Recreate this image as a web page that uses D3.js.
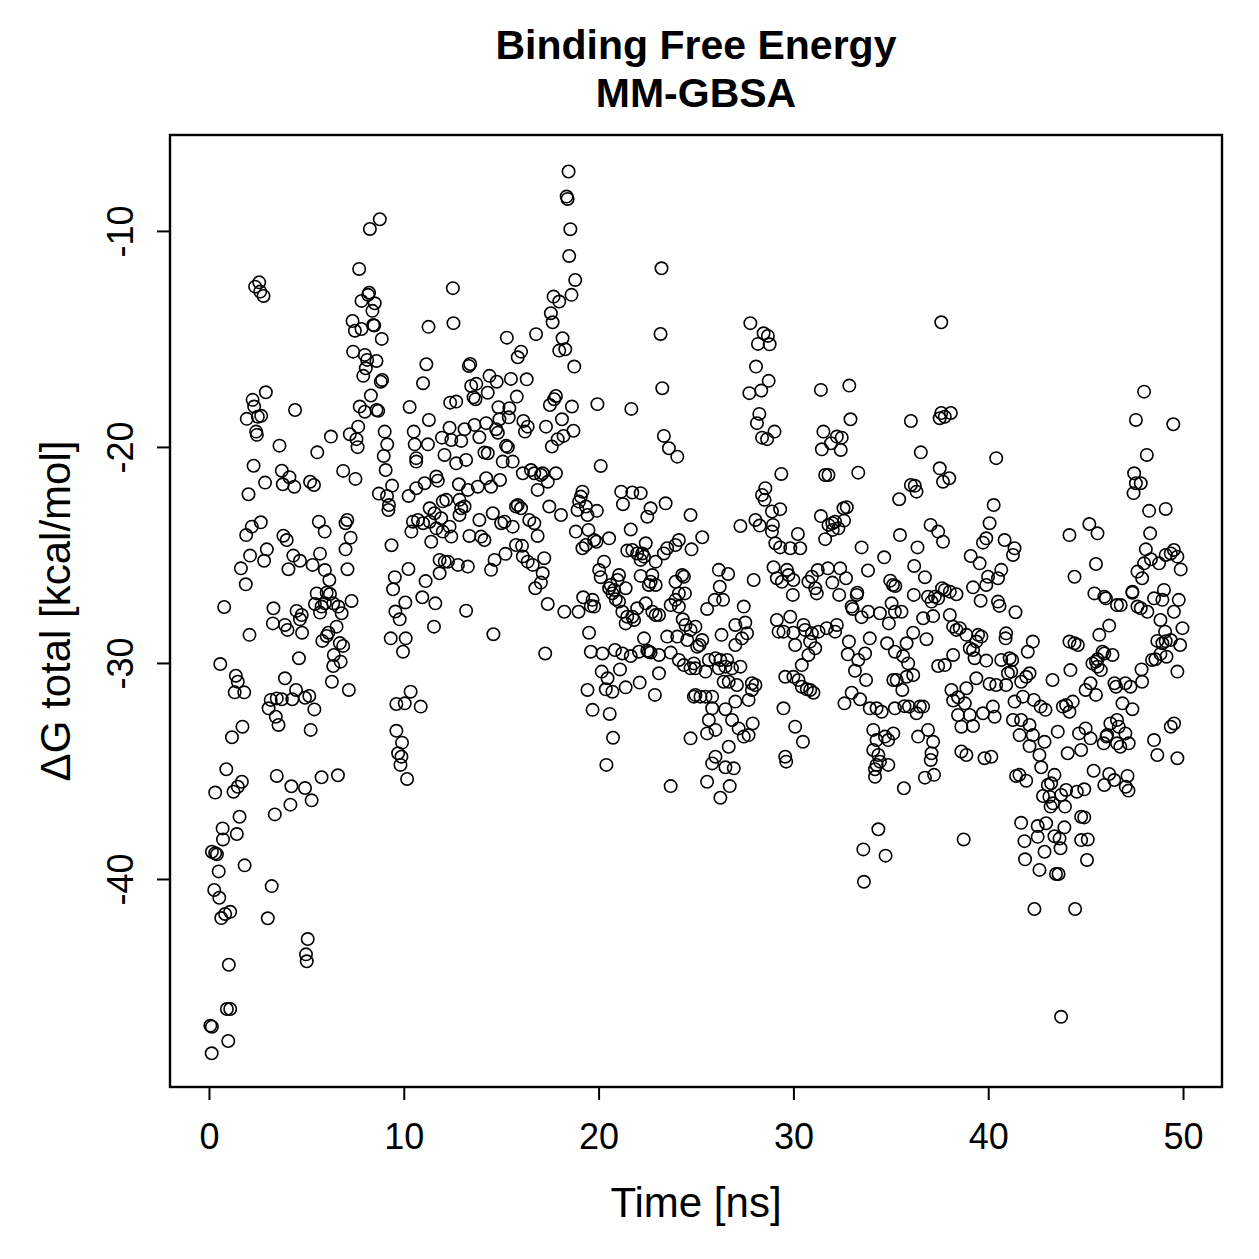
<!DOCTYPE html>
<html>
<head>
<meta charset="utf-8">
<script src="https://cdn.jsdelivr.net/npm/d3@7"></script>
<style>
  body { margin: 0; background: #fff; }
  text { font-family: "Liberation Sans", Arial, Helvetica, sans-serif; }
</style>
</head>
<body>
<div id="chart"></div>
<script>
// MM-GBSA binding free energy per frame, [time (ns), dG total (kcal/mol)]
const frames0to12 = [
  [0.89,-34.92],[0.32,-36.0],[1.26,-35.96],[1.48,-35.73],[1.69,-35.5],[3.48,-35.23],[4.23,-35.71],[4.93,-35.79],[5.78,-35.29],[6.62,-35.2],
  [5.27,-36.36],[4.18,-36.56],[3.38,-37.01],[1.57,-37.12],[0.70,-37.66],[0.72,-38.17],[1.43,-37.92],[0.15,-38.74],[0.32,-38.81],[0.41,-38.86],
  [1.83,-39.37],[0.5,-39.65],[3.22,-40.33],[0.27,-40.51],[0.53,-40.87],[1.09,-41.52],[0.83,-41.62],[0.63,-41.81],[3.02,-41.82],[5.07,-42.78],
  [4.98,-43.49],[5.02,-43.81],[1.02,-43.97],[0.92,-46.02],[1.09,-46.02],[0.07,-46.79],[0.15,-46.84],[0.99,-47.5],[0.14,-48.07],[9.83,-34.72],[10.17,-35.37],
  [2.29,-20.87],[3.74,-21.1],[4.13,-21.4],[2.88,-21.65],[3.79,-21.73],[4.38,-21.84],[5.19,-21.61],[5.39,-21.76],[2.03,-22.19],[6.89,-21.11],
  [7.52,-21.48],[9.07,-21.07],[9.4,-21.79],[8.72,-22.16],[9.14,-22.27],[9.24,-22.69],[9.21,-22.92],[10.25,-22.27],[10.64,-21.91],[11.07,-21.68],
  [11.67,-21.37],[11.75,-21.56],[10.64,-20.68],[12.0,-22.52],[11.33,-22.84],[11.58,-23.07],[11.92,-23.3],[10.47,-23.46],[10.73,-23.38],[10.99,-23.53],
  [11.33,-23.46],[11.67,-23.77],[12.0,-23.92],[10.39,-23.92],[11.41,-24.39],[2.66,-23.49],[2.2,-23.69],[1.91,-24.08],[3.82,-24.11],[3.99,-24.31],
  [5.64,-23.46],[5.94,-23.92],[7.01,-23.53],[7.1,-23.38],[7.27,-24.2],[7.01,-24.74],[9.37,-24.55],[2.97,-24.74],[2.11,-25.03],[2.83,-25.27],
  [4.33,-25.03],[4.67,-25.27],[5.7,-24.94],[5.32,-25.46],[5.95,-25.7],[4.08,-25.66],[1.64,-25.62],[1.89,-26.36],[7.11,-25.66],[6.18,-26.16],
  [5.53,-26.78],[6.04,-26.75],[6.21,-26.81],[5.44,-27.27],[5.78,-27.39],[5.95,-27.24],[6.38,-27.24],[6.64,-27.39],[6.81,-27.7],[7.32,-27.13],
  [5.7,-27.67],[3.31,-27.47],[4.5,-27.59],[4.76,-27.78],[4.67,-27.98],[3.28,-28.17],[3.9,-28.24],[4.03,-28.47],[4.78,-28.6],[0.78,-27.41],
  [2.08,-28.7],[6.55,-28.32],[6.13,-28.6],[6.04,-28.75],[5.82,-28.98],[6.72,-29.08],[6.89,-29.21],[6.41,-29.63],[6.76,-29.94],[6.38,-30.14],
  [4.62,-29.78],[0.58,-30.05],[1.38,-30.59],[1.48,-30.87],[1.32,-31.36],[1.81,-31.36],[3.9,-30.71],[6.31,-30.87],[7.18,-31.25],[4.47,-31.25],
  [4.28,-31.68],[4.93,-31.61],[5.15,-31.53],[5.41,-32.15],[3.17,-31.71],[3.06,-32.1],[3.48,-31.64],[3.74,-31.68],[3.43,-32.49],[3.57,-32.87],
  [5.22,-33.1],[1.72,-32.95],[1.18,-33.44],[10.35,-31.33],[9.62,-31.9],[10.05,-31.87],[10.87,-32.02],[9.62,-33.14],[9.91,-33.69],[9.71,-34.18],
  [9.88,-34.34],[9.54,-26.03],[9.45,-26.59],[10.24,-25.65],[11.12,-26.21],[10.95,-26.96],[11.62,-27.24],[10.08,-27.2],[9.57,-27.62],[9.79,-27.98],
  [11.55,-28.32],[9.33,-28.86],[10.1,-28.86],[9.96,-29.48],[11.84,-25.23],[11.84,-25.85],[12.1,-25.31],
  [8.77,-9.46],[8.26,-9.91],[7.71,-11.76],[2.58,-12.38],[2.37,-12.58],[2.63,-12.81],[2.8,-13.01],[8.22,-12.86],[8.17,-12.96],[7.83,-13.24],
  [8.51,-13.35],[8.39,-13.7],[7.37,-14.17],[7.49,-14.62],[7.83,-14.54],[8.43,-14.35],[8.48,-14.38],[8.87,-15.0],[11.27,-14.44],[7.4,-15.59],
  [8.0,-15.74],[8.12,-15.97],[8.6,-16.02],[8.05,-16.36],[7.92,-16.71],[8.89,-16.9],[8.82,-16.98],[11.16,-16.17],[10.99,-17.05],[2.92,-17.47],
  [2.24,-17.82],[2.32,-18.13],[2.68,-18.56],[2.51,-18.6],[1.94,-18.7],[2.42,-19.29],[2.46,-19.44],[4.42,-18.29],[8.31,-17.62],[7.74,-18.13],
  [8.0,-18.37],[8.6,-18.29],[8.69,-18.33],[10.3,-18.15],[11.29,-18.75],[7.23,-19.41],[7.66,-19.06],[7.57,-19.64],[7.63,-20.01],[9.02,-19.29],
  [9.15,-19.88],[8.97,-20.42],[10.51,-19.29],[10.56,-19.88],[11.24,-19.88],[10.64,-20.52],[6.26,-19.52],[5.56,-20.25],[3.62,-19.94],[11.96,-19.57],[12.09,-20.37]
];

const frames12to25 = [
  [18.46,-7.25],[18.36,-8.41],[18.41,-8.52],[18.55,-9.92],[18.49,-11.16],[18.8,-12.27],[18.61,-12.96],[23.23,-11.73],[12.52,-12.65],[17.69,-13.04],
  [17.98,-13.27],[17.55,-13.81],[17.64,-14.23],[12.55,-14.27],[23.18,-14.77],[15.29,-14.94],[16.79,-14.78],[18.15,-14.97],[17.98,-15.54],[18.29,-15.48],
  [18.75,-16.28],[16.02,-15.59],[15.85,-15.85],[13.41,-16.16],[13.34,-16.25],[23.27,-17.28],[14.4,-16.71],[14.77,-16.98],[15.5,-16.85],[16.31,-16.87],
  [13.46,-17.18],[13.72,-17.08],[13.58,-17.7],[13.68,-17.79],[14.31,-17.49],[15.8,-17.67],[12.38,-17.95],[12.69,-17.9],[17.81,-17.64],[17.72,-17.79],
  [17.5,-18.06],[18.63,-18.13],[19.94,-18.02],[21.68,-18.24],[14.86,-18.16],[15.42,-18.21],[14.91,-18.72],[15.39,-18.63],[16.14,-18.8],[16.36,-19.06],
  [16.22,-19.29],[14.74,-19.18],[14.83,-19.34],[13.63,-18.98],[14.23,-18.9],[13.12,-19.18],[12.35,-19.11],[17.3,-19.06],[18.12,-18.72],[18.71,-19.25],
  [18.2,-19.49],[17.9,-19.64],[17.6,-19.98],[13.88,-19.55],[12.44,-19.68],[12.95,-19.72],[14.14,-20.26],[14.31,-20.29],[15.25,-19.95],[15.34,-20.01],
  [23.35,-19.49],[23.61,-20.06],[24.04,-20.45],
  [20.11,-20.88],[16.11,-21.22],[16.53,-21.07],[16.7,-21.22],[17.04,-21.3],[17.13,-21.22],[17.39,-21.61],[17.81,-21.22],[16.87,-21.99],[15.08,-20.68],
  [15.59,-20.68],[12.69,-20.76],[13.2,-20.6],[12.83,-21.73],[13.29,-21.99],[13.8,-21.84],[14.23,-21.45],[14.48,-21.84],[14.94,-21.53],[12.18,-22.45],
  [12.86,-22.45],[12.95,-22.84],[12.86,-23.15],[13.12,-22.76],[13.88,-23.38],[14.57,-23.07],[15.0,-23.53],[15.17,-23.46],[15.59,-23.69],[15.76,-22.76],
  [15.85,-22.69],[16.02,-22.84],[16.44,-23.38],[16.7,-23.53],[17.47,-22.76],[18.07,-23.15],[16.87,-24.12],[12.35,-23.69],[12.44,-24.15],[13.37,-24.12],
  [13.97,-24.15],[14.14,-24.31],[15.76,-24.54],[16.07,-24.58],[15.22,-24.95],[14.66,-25.23],[14.48,-25.69],[16.11,-25.07],[16.36,-25.31],[16.62,-25.46],
  [17.21,-25.15],[12.27,-25.31],[12.78,-25.46],[13.29,-25.54],[17.13,-25.85],[17.04,-26.28],[16.75,-26.54],[17.39,-27.27],[13.2,-27.58],[14.6,-28.67],
  [17.26,-29.56],[18.24,-27.63],[18.97,-27.63],[19.21,-26.96],[19.69,-27.08],[19.6,-27.36],[19.77,-27.39],[18.83,-23.92],[19.17,-24.69],[19.35,-24.54],
  [19.77,-24.31],[19.89,-24.39],[19.48,-23.84],[20.54,-24.23],[18.92,-22.92],[19.0,-22.53],[19.17,-22.07],[19.09,-22.3],[19.35,-22.76],[19.43,-23.15],
  [19.91,-22.96],[21.16,-22.07],[21.73,-22.11],[22.16,-22.14],[21.25,-22.65],[22.67,-22.84],[22.5,-23.23],[23.44,-22.61],[21.65,-23.82],[24.72,-23.15],
  [22.42,-24.46],[21.73,-24.77],[21.47,-24.8],[21.98,-24.93],[22.33,-25.08],[22.24,-24.93],[22.16,-25.23],[22.93,-25.31],[23.35,-24.93],[23.52,-24.69],
  [23.95,-24.54],[24.12,-24.31],[24.77,-24.74],
  [20.28,-25.31],[20.03,-25.7],[20.11,-26.03],[21.05,-25.93],[20.97,-26.16],[20.62,-26.39],[20.54,-26.54],[20.8,-26.62],[21.39,-26.54],[20.71,-26.78],
  [20.88,-27.05],[21.05,-27.16],[22.16,-25.97],[22.76,-25.93],[22.67,-26.24],[22.93,-26.39],[22.58,-26.39],[23.95,-26.24],[24.29,-25.93],[24.38,-26.01],
  [24.12,-26.78],[24.43,-26.78],[23.95,-27.08],[23.7,-27.32],[24.12,-27.39],
  [21.22,-27.63],[21.47,-27.86],[21.39,-28.17],[21.82,-28.01],[21.73,-27.86],[21.98,-27.47],[22.42,-27.24],[22.76,-27.63],[23.1,-27.78],[22.93,-27.78],
  [23.52,-28.78],[22.33,-28.86],[22.58,-29.48],[23.1,-29.63],[23.7,-29.52],[24.04,-28.78],[24.55,-28.94],[24.32,-27.98],[24.46,-28.24],[24.72,-28.47],
  [19.51,-28.6],[19.6,-29.48],[20.2,-29.56],[20.84,-29.4],[21.22,-29.56],[21.65,-29.68],[22.07,-29.48],[22.5,-29.43],[22.67,-29.52],
  [20.16,-30.4],[20.46,-30.71],[20.37,-31.22],[20.71,-31.33],[21.1,-30.3],[21.39,-31.13],[22.11,-30.91],[23.1,-30.48],[22.89,-31.48],[19.43,-31.25],
  [24.12,-29.86],[24.38,-30.1],[24.72,-30.25],[24.89,-30.02],[24.89,-31.56],[19.69,-32.17],[20.57,-32.36],[20.74,-33.46],[24.72,-33.49],[20.4,-34.72],[23.7,-35.7]
];

const frames25to38 = [
  [29.38,-21.25],[31.63,-21.3],[31.8,-21.3],[33.33,-21.19],[37.51,-20.99],[37.68,-21.61],[36.03,-21.76],[36.23,-21.8],[36.32,-22.07],[35.43,-22.42],
  [28.56,-21.91],[28.39,-22.22],[28.52,-22.45],[28.9,-22.99],[29.32,-22.88],[27.28,-23.66],[28.05,-23.38],[28.27,-23.64],[28.95,-23.61],[28.9,-23.92],
  [29.07,-24.46],[29.32,-24.65],[29.84,-24.69],[30.35,-24.69],[30.23,-24.03],[31.41,-23.2],[31.8,-23.61],[32.0,-23.53],[32.14,-23.46],[32.31,-23.77],
  [32.6,-23.41],[32.57,-22.84],[32.74,-22.79],[31.63,-24.27],[32.02,-23.84],[25.32,-24.18],[33.5,-24.65],[34.66,-25.11],[35.47,-24.08],[36.37,-24.65],
  [37.04,-23.61],[37.43,-23.92],[37.68,-24.39],
  [26.17,-25.69],[26.65,-25.88],[26.22,-26.47],[25.96,-27.08],[26.39,-27.08],[25.57,-27.5],[27.96,-26.16],[28.98,-25.57],[29.67,-25.69],[29.75,-25.93],
  [29.15,-26.08],[29.41,-26.24],[30.0,-26.16],[29.97,-26.85],[30.77,-26.24],[30.95,-26.01],[31.25,-25.7],[31.12,-26.54],[31.2,-26.78],[31.77,-25.62],
  [32.4,-25.62],[32.0,-26.28],[32.7,-26.08],[32.35,-26.85],
  [33.28,-26.75],[33.25,-26.85],[32.99,-27.39],[33.04,-27.5],[33.84,-27.63],[33.5,-27.88],[34.44,-27.7],[35.04,-27.24],[35.55,-27.63],[34.9,-28.17],
  [35.21,-27.63],[36.18,-26.85],[36.75,-26.03],[36.2,-25.51],[36.91,-26.93],[37.09,-27.16],[37.26,-26.93],[37.43,-27.01],[37.63,-26.54],[37.17,-27.83],
  [36.66,-27.93],[36.15,-28.6],[36.83,-28.9],[35.11,-26.39],[34.97,-26.19],[35.23,-26.44],[33.83,-25.72],
  [24.97,-28.32],[25.32,-28.94],[25.06,-29.25],[25.18,-29.17],[25.66,-29.86],[26.0,-29.78],[26.25,-29.86],[26.6,-29.86],[24.97,-30.25],
  [25.49,-30.4],[26.17,-30.25],[26.51,-30.17],[26.85,-30.25],[27.28,-30.17],[26.42,-30.87],[26.68,-30.87],[27.1,-31.02],[27.87,-30.94],[28.05,-31.02],[27.87,-31.25],
  [24.97,-31.48],[25.23,-31.56],[25.49,-31.56],[25.83,-31.56],[25.83,-32.1],[26.51,-32.14],[27.02,-31.79],[27.7,-31.71],[26.85,-32.64],[25.66,-32.64],
  [26.0,-33.1],[25.57,-33.26],[27.19,-33.03],[27.45,-33.41],[27.7,-33.34],[27.91,-32.8],[26.68,-33.88],
  [26.31,-28.7],[27.02,-28.24],[27.45,-27.39],[27.53,-28.13],[27.62,-28.63],[27.36,-28.86],[27.02,-29.17],
  [29.15,-28.01],[29.84,-27.86],[29.24,-28.55],[29.49,-28.55],[30.0,-28.6],[30.6,-28.47],[30.52,-28.24],[30.95,-28.63],[31.29,-28.55],[31.71,-28.39],
  [32.23,-28.24],[32.14,-28.55],[30.86,-29.01],[31.12,-29.32],[30.77,-29.63],[30.09,-29.17],[30.43,-30.1],
  [29.58,-30.64],[30.0,-30.64],[30.26,-30.79],[30.43,-31.1],[30.69,-31.22],[30.86,-31.25],[31.03,-31.38],[29.49,-32.1],[30.09,-32.95],[30.49,-33.65],
  [32.85,-29.01],[32.79,-29.6],[33.33,-29.86],[33.68,-29.56],[33.16,-30.36],[33.73,-30.79],[32.99,-31.38],[33.42,-31.68],[32.62,-31.87],
  [33.92,-28.86],[34.81,-29.09],[35.21,-29.48],[35.81,-29.09],[35.89,-30.02],[35.63,-29.68],[36.15,-30.56],[35.81,-30.64],[35.3,-30.79],[35.59,-31.25],
  [35.13,-30.79],[35.93,-32.02],[36.49,-32.02],[37.43,-30.14],
  [33.92,-32.1],[34.27,-32.1],[34.53,-32.26],[35.21,-32.1],[35.7,-32.0],[36.32,-32.33],[36.66,-32.02],
  [34.1,-33.1],[34.27,-33.57],[34.7,-33.41],[35.13,-33.26],[34.87,-33.57],[34.1,-34.03],[34.36,-34.26],[36.4,-33.41],[36.91,-33.1],[37.17,-33.65],[37.09,-34.18],
  [26.0,-34.34],[29.58,-34.34],[25.83,-34.65],[26.51,-34.83],[26.94,-34.88],[25.57,-35.5],[26.73,-35.7],[26.25,-36.24],[29.63,-34.57],
  [34.27,-34.72],[34.19,-34.92],[34.19,-35.27],[34.87,-34.72],[34.44,-34.57],[35.67,-35.8],[36.75,-35.31],[37.22,-35.18],[37.05,-34.49],
  [34.36,-37.7],[33.59,-38.63],[34.73,-38.92],[33.62,-40.13],
  [27.79,-14.27],[28.47,-14.74],[28.69,-14.86],[28.18,-15.23],[28.78,-15.25],[28.08,-16.28],[28.73,-16.94],[28.35,-17.39],[27.74,-17.51],[31.41,-17.36],
  [32.87,-17.16],[28.25,-18.47],[28.13,-18.9],[29.03,-19.29],[28.39,-19.57],[28.65,-19.64],[32.93,-18.72],[31.54,-19.29],[32.23,-19.52],[32.48,-19.57],
  [31.93,-19.83],[31.46,-20.11],[32.43,-20.14],[36.03,-18.8],[36.54,-20.25],[37.59,-14.23],[37.59,-18.43],[37.51,-18.67]
];

const frames38to50 = [
  [38.08,-18.43],[37.77,-18.6],[40.41,-20.52],[48.0,-17.44],[47.58,-18.75],[49.5,-18.95],[48.14,-20.37],
  [38.0,-21.45],[47.49,-21.22],[47.58,-21.68],[47.83,-21.68],[47.46,-22.14],[40.28,-22.69],[48.26,-22.96],[49.11,-22.87],[48.31,-24.0],
  [40.07,-23.53],[39.9,-24.23],[39.73,-24.43],[40.84,-24.31],[41.35,-24.69],[41.27,-25.0],[39.1,-25.05],[39.56,-25.39],[40.67,-25.69],[40.5,-26.08],
  [39.99,-26.01],[39.9,-26.39],[39.22,-26.5],[37.77,-26.62],[38.03,-26.7],[38.37,-26.82],[39.61,-27.12],[40.5,-27.16],[40.58,-27.36],[41.4,-27.65],
  [38.03,-27.78],[38.2,-28.32],[38.37,-28.47],[38.54,-28.39],[38.88,-28.7],[39.48,-28.7],[39.65,-28.78],[39.39,-29.01],[40.92,-28.63],[40.89,-28.86],
  [42.29,-29.01],[42.03,-29.48],[40.67,-29.86],[41.1,-29.78],[41.23,-29.86],[41.18,-30.4],[41.01,-30.48],[42.12,-30.48],[41.95,-30.64],
  [39.22,-29.4],[39.05,-29.32],[39.3,-29.78],[39.9,-29.89],[38.2,-29.63],[37.77,-30.1],
  [39.39,-30.71],[40.07,-30.97],[40.41,-31.02],[40.92,-31.02],[41.69,-30.87],[38.88,-31.17],[38.11,-31.25],[38.45,-31.59],[38.2,-31.74],[38.8,-31.87],
  [39.73,-32.33],[40.24,-32.02],[40.33,-32.49],[39.05,-32.41],[38.45,-32.41],[38.62,-32.95],[39.22,-32.92],[41.35,-31.79],[41.78,-31.56],[41.69,-32.64],[41.27,-32.64],
  [42.34,-31.71],[42.69,-32.02],[42.94,-32.17],[42.12,-32.87],[41.61,-33.34],[42.29,-33.34],[42.89,-33.65],[42.12,-33.85],[43.57,-33.18],[43.83,-32.02],
  [44.34,-31.79],[44.17,-32.26],[44.0,-31.95],[43.3,-30.79],
  [44.66,-33.26],[45.0,-33.03],[45.25,-33.49],[46.1,-33.34],[46.27,-32.8],[46.61,-32.64],[46.7,-32.95],[47.04,-33.26],[47.21,-33.72],[46.61,-33.72],
  [46.78,-33.88],[45.93,-33.72],[46.07,-33.41],[48.51,-33.57],[49.37,-32.95],[49.54,-32.8],[48.68,-34.26],[49.71,-34.41],
  [38.62,-34.1],[38.88,-34.26],[39.81,-34.41],[40.16,-34.34],[42.63,-34.26],[44.08,-34.18],[44.77,-34.03],
  [44.17,-29.01],[44.43,-29.09],[44.6,-29.17],[45.7,-28.7],[46.21,-28.27],
  [45.35,-30.02],[45.53,-29.94],[45.61,-30.17],[45.78,-30.33],[45.87,-29.48],[45.96,-29.56],[46.38,-29.63],[45.61,-29.83],[44.22,-30.33],
  [45.0,-31.25],[45.25,-30.94],[45.53,-31.48],[46.48,-30.94],[46.56,-31.1],[47.04,-30.94],[47.3,-31.1],[47.9,-30.87],[46.89,-31.87],[47.4,-32.14],
  [47.87,-30.3],[48.41,-29.86],[48.58,-29.83],[48.84,-29.58],[49.15,-29.71],[49.71,-30.4],[48.68,-28.98],[48.94,-29.09],[49.11,-28.99],[49.37,-28.94],
  [49.85,-29.17],[49.97,-28.39],[49.08,-28.55],[48.84,-28.01],[49.53,-27.63],[49.78,-27.08],[48.94,-27.08],[49.02,-26.62],[48.51,-27.01],[48.17,-27.63],
  [47.83,-27.47],[47.66,-27.39],[47.4,-26.75],[46.61,-27.32],
  [47.9,-26.08],[47.66,-25.77],[48.0,-25.39],[48.09,-24.74],[48.35,-25.2],[48.77,-25.39],[49.11,-25.0],[49.37,-24.93],[49.53,-24.77],[49.71,-25.08],[49.88,-25.67],
  [44.17,-24.08],[45.19,-23.57],[45.61,-24.0],[45.53,-25.42],[44.43,-26.01],[45.45,-26.78],[45.96,-26.93],[46.04,-27.01],[46.8,-27.32],[47.4,-26.7],
  [42.72,-34.83],[41.43,-35.23],[41.6,-35.18],[41.95,-35.45],[43.4,-35.18],[43.06,-35.65],[43.23,-35.57],[42.81,-36.16],[43.14,-36.19],[43.2,-36.65],
  [43.32,-36.5],[43.74,-36.11],[44.0,-35.88],[43.94,-36.65],[44.55,-35.96],[44.93,-35.85],
  [45.41,-34.99],[46.21,-35.14],[46.47,-35.42],[47.15,-35.23],[45.96,-35.65],[47.06,-35.73],[47.2,-35.91],
  [41.69,-37.4],[42.54,-37.55],[42.97,-37.42],[43.91,-37.61],[44.77,-37.12],[44.93,-37.15],[43.4,-38.02],[43.66,-38.13],[41.86,-38.25],[42.54,-38.05],
  [44.77,-38.2],[45.11,-38.17],[42.89,-38.74],[43.71,-38.58],[41.89,-39.09],[42.63,-39.58],[43.48,-39.77],[43.61,-39.77],[45.07,-39.12],[38.74,-38.17],
  [42.37,-41.39],[44.46,-41.39],[43.74,-46.38]
];

const xTicks = [0, 10, 20, 30, 40, 50];
const yTicks = [-40, -30, -20, -10];
const xLimits = [-2, 52];
const yLimits = [-49.63, -5.56];

const titleLines = ["Binding Free Energy", "MM-GBSA"];
const xTitle = "Time [ns]";
const yTitle = "\u0394G total [kcal/mol]";

const W = 1259, H = 1259;
const margin = {top: 135, right: 37, bottom: 172, left: 170};
const plotW = W - margin.left - margin.right;
const plotH = H - margin.top - margin.bottom;

const frames = frames0to12.concat(frames12to25, frames25to38, frames38to50);

const svg = d3.select("#chart").append("svg")
  .attr("width", W)
  .attr("height", H)
  .style("display", "block");

svg.append("rect").attr("width", W).attr("height", H).attr("fill", "#fff");

const g = svg.append("g")
  .attr("transform", "translate(" + margin.left + "," + margin.top + ")");

const x = d3.scaleLinear().domain(xLimits).range([0, plotW]);
const y = d3.scaleLinear().domain(yLimits).range([plotH, 0]);

// plain hyphen for negatives, like base R
const fmt = d => String(d);

// x axis
const xAxis = g.append("g")
  .attr("transform", "translate(0," + plotH + ")")
  .call(d3.axisBottom(x).tickValues(xTicks).tickSize(13).tickFormat(fmt));
xAxis.select(".domain").remove();
xAxis.selectAll("line").attr("stroke", "#000").attr("stroke-width", 2);
xAxis.selectAll("text")
  .attr("y", 62).attr("dy", 0)
  .attr("fill", "#000")
  .style("font-size", "36px");

// y axis, labels parallel to the axis
const yAxis = g.append("g")
  .call(d3.axisLeft(y).tickValues(yTicks).tickSize(13).tickFormat(fmt));
yAxis.select(".domain").remove();
yAxis.selectAll("line").attr("stroke", "#000").attr("stroke-width", 2);
yAxis.selectAll("text")
  .attr("transform", "rotate(-90)")
  .attr("x", 0).attr("y", -37).attr("dy", 0)
  .attr("text-anchor", "middle")
  .attr("fill", "#000")
  .style("font-size", "36px");

// points
g.append("g").selectAll("circle")
  .data(frames)
  .enter().append("circle")
    .attr("cx", d => x(d[0]))
    .attr("cy", d => y(d[1]))
    .attr("r", 6.2)
    .attr("fill", "none")
    .attr("stroke", "#000")
    .attr("stroke-width", 1.6);

// box
g.append("rect")
  .attr("width", plotW).attr("height", plotH)
  .attr("fill", "none").attr("stroke", "#000").attr("stroke-width", 2.4);

// axis titles
svg.append("text")
  .attr("x", margin.left + plotW / 2)
  .attr("y", 1217)
  .attr("text-anchor", "middle")
  .style("font-size", "42px")
  .text(xTitle);

svg.append("text")
  .attr("transform", "translate(70," + (margin.top + plotH / 2) + ") rotate(-90)")
  .attr("text-anchor", "middle")
  .style("font-size", "42px")
  .text(yTitle);

// title
svg.selectAll(".title")
  .data(titleLines)
  .enter().append("text")
    .attr("class", "title")
    .attr("x", margin.left + plotW / 2)
    .attr("y", (d, i) => 59 + i * 48)
    .attr("text-anchor", "middle")
    .style("font-size", "41px")
    .style("font-weight", "bold")
    .text(d => d);
</script>
</body>
</html>
